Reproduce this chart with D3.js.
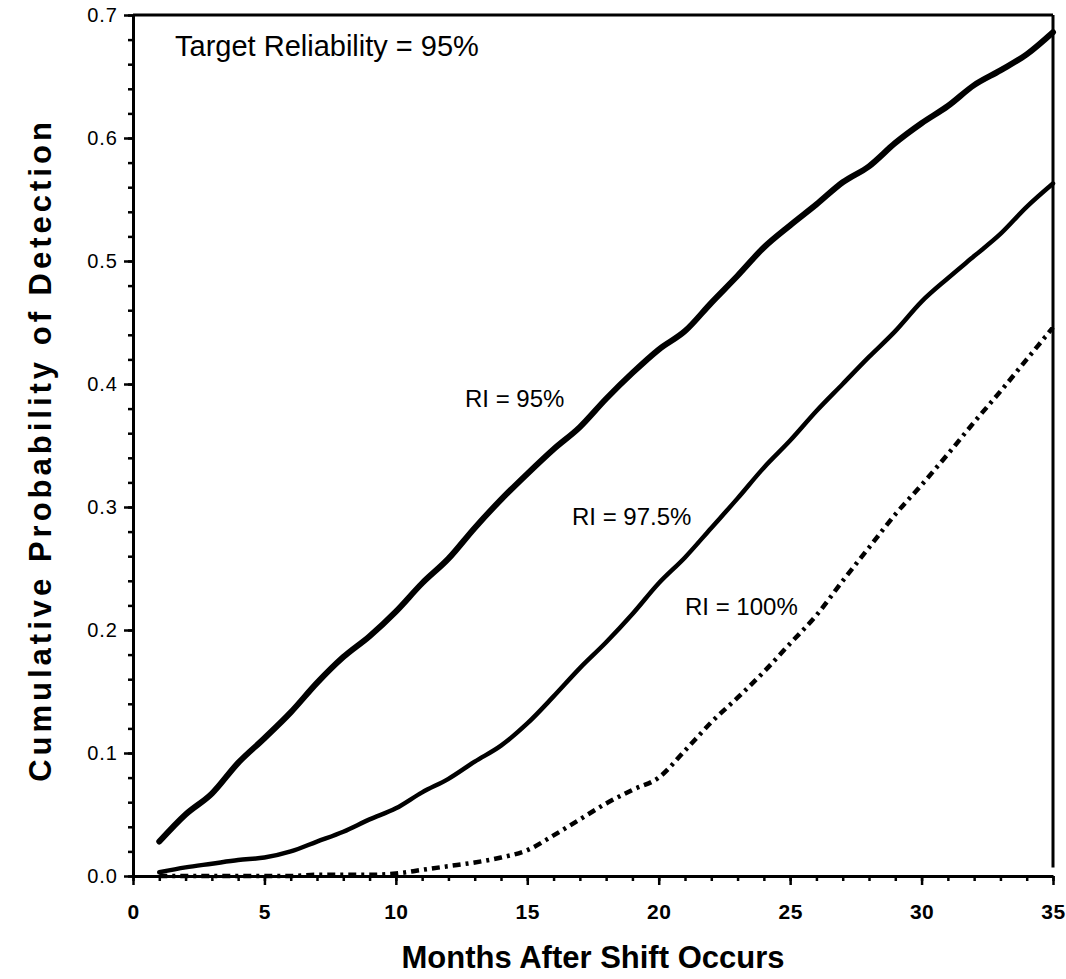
<!DOCTYPE html>
<html>
<head>
<meta charset="utf-8">
<script src="https://cdn.jsdelivr.net/npm/d3@7"></script>
<style>
  body { margin: 0; background: #fff; }
  svg { display: block; }
  text { font-family: "Liberation Sans", Arial, Helvetica, sans-serif; fill: #000; }
  .tick text { font-size: 20px; letter-spacing: 1px; }
  .x-axis .tick text { font-size: 21px; font-weight: bold; letter-spacing: 0.5px; }
  .title { font-weight: bold; font-size: 31px; }
  .note { font-size: 24px; }
</style>
</head>
<body>
<svg width="1066" height="979"></svg>
<script>
// months after the shift
var months = d3.range(1, 36);

// cumulative probability of detection
var ri95 = [0.028, 0.05, 0.067, 0.092, 0.112, 0.133, 0.157, 0.178, 0.195, 0.215,
  0.238, 0.258, 0.283, 0.306, 0.327, 0.347, 0.365, 0.388, 0.409, 0.428,
  0.443, 0.466, 0.488, 0.511, 0.529, 0.546, 0.564, 0.577, 0.596, 0.612,
  0.626, 0.643, 0.655, 0.668, 0.686];

var ri975 = [0.003, 0.007, 0.01, 0.013, 0.015, 0.02, 0.028, 0.036, 0.046, 0.055,
  0.068, 0.079, 0.093, 0.106, 0.124, 0.146, 0.169, 0.19, 0.213, 0.238,
  0.259, 0.283, 0.307, 0.332, 0.354, 0.378, 0.4, 0.422, 0.443, 0.467,
  0.486, 0.504, 0.522, 0.544, 0.563];

var ri100 = [0, 0, 0, 0, 0, 0, 0.001, 0.001, 0.001, 0.002,
  0.005, 0.008, 0.011, 0.015, 0.021, 0.033, 0.046, 0.059, 0.07, 0.08,
  0.102, 0.125, 0.145, 0.166, 0.189, 0.212, 0.24, 0.267, 0.294, 0.318,
  0.343, 0.369, 0.394, 0.42, 0.446];

var xTicks = [0, 5, 10, 15, 20, 25, 30, 35];
var yTicks = [0, 0.1, 0.2, 0.3, 0.4, 0.5, 0.6, 0.7];

// curve labels: [text, month, probability]
var labels = [
  ["RI = 95%", 12.63, 0.381],
  ["RI = 97.5%", 16.7, 0.285],
  ["RI = 100%", 21.0, 0.212]
];

var svg = d3.select("svg");

var x = d3.scaleLinear().domain([0, 35]).range([133, 1053]);
var y = d3.scaleLinear().domain([0, 0.7]).range([876, 15]);

// minor ticks
svg.append("g")
  .attr("transform", "translate(0,876)")
  .call(d3.axisBottom(x).tickValues(d3.range(0, 36)).tickSize(5).tickFormat(""))
  .call((g) => g.select(".domain").remove());
svg.append("g")
  .attr("transform", "translate(133,0)")
  .call(d3.axisLeft(y).tickValues(d3.range(0, 0.701, 0.02)).tickSize(5).tickFormat(""))
  .call((g) => g.select(".domain").remove());

// major ticks and labels
svg.append("g")
  .attr("class", "x-axis")
  .attr("transform", "translate(0,876)")
  .call(d3.axisBottom(x).tickValues(xTicks).tickSize(9).tickPadding(19).tickSizeOuter(0));
svg.append("g")
  .attr("class", "y-axis")
  .attr("transform", "translate(133,0)")
  .call(d3.axisLeft(y).tickValues(yTicks).tickSize(9).tickPadding(6)
    .tickFormat(d3.format(".1f")).tickSizeOuter(0));

svg.selectAll(".domain").attr("stroke-width", 3);
svg.selectAll(".tick line").attr("stroke-width", 2.5);

// top and right frame
svg.append("line")
  .attr("x1", x(0)).attr("x2", x(35))
  .attr("y1", y(0.7)).attr("y2", y(0.7))
  .attr("stroke", "#000").attr("stroke-width", 3);
svg.append("line")
  .attr("x1", x(35)).attr("x2", x(35))
  .attr("y1", y(0.7)).attr("y2", y(0.007))
  .attr("stroke", "#000").attr("stroke-width", 3);

var line = d3.line()
  .x((d) => x(d[0]))
  .y((d) => y(d[1]))
  .curve(d3.curveMonotoneX);

function draw(values, width, dash, cap) {
  svg.append("path")
    .datum(months.map((m, i) => [m, values[i]]))
    .attr("d", line)
    .attr("fill", "none")
    .attr("stroke", "#000")
    .attr("stroke-width", width)
    .attr("stroke-linecap", cap)
    .attr("stroke-dasharray", dash);
}

draw(ri95, 6, null, "round");
draw(ri975, 4.5, null, "round");
draw(ri100, 4.5, "8,5,3,5", "butt");

svg.selectAll(".curve-label")
  .data(labels)
  .enter()
  .append("text")
  .attr("class", "note")
  .attr("x", (d) => x(d[1]))
  .attr("y", (d) => y(d[2]))
  .text((d) => d[0]);

svg.append("text")
  .attr("class", "note")
  .attr("x", x(1.6))
  .attr("y", y(0.667))
  .style("font-size", "29px")
  .text("Target Reliability = 95%");

svg.append("text")
  .attr("class", "title")
  .attr("x", (x(0) + x(35)) / 2)
  .attr("y", 968)
  .attr("text-anchor", "middle")
  .text("Months After Shift Occurs");

svg.append("text")
  .attr("class", "title")
  .attr("transform", "translate(51," + 450 + ") rotate(-90)")
  .attr("text-anchor", "middle")
  .style("font-size", "31px")
  .style("letter-spacing", "4px")
  .text("Cumulative Probability of Detection");
</script>
</body>
</html>
